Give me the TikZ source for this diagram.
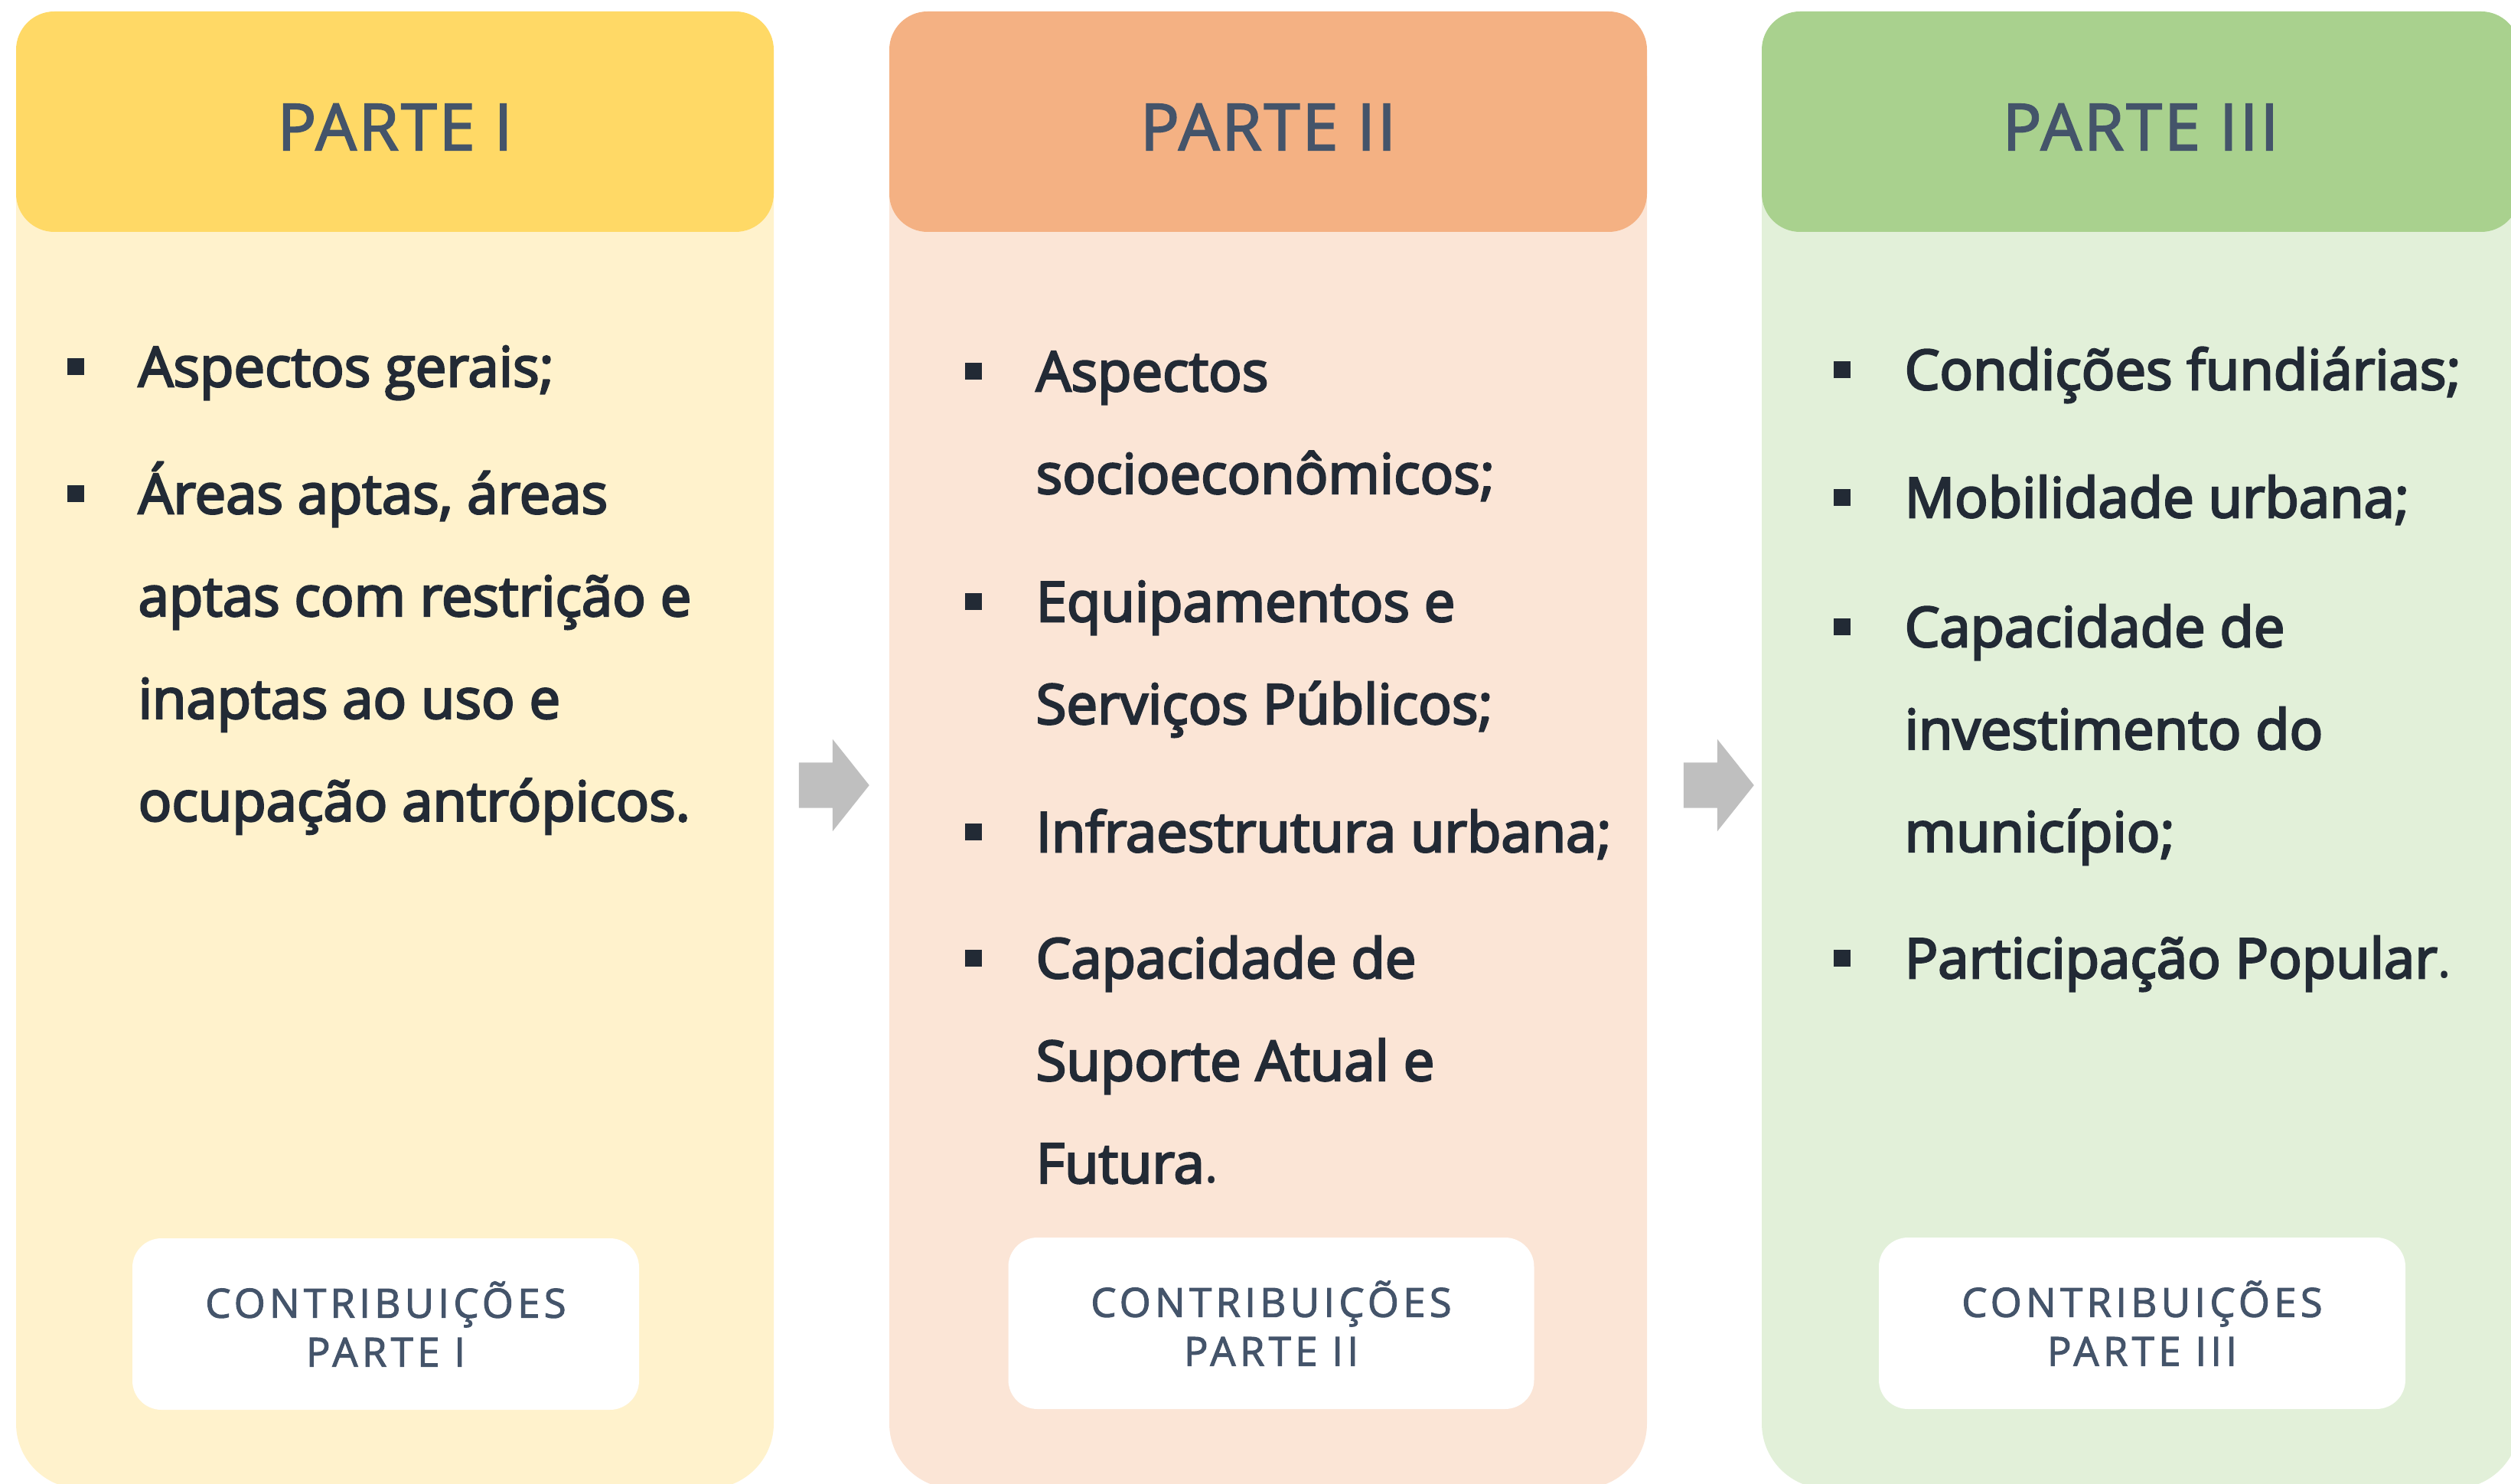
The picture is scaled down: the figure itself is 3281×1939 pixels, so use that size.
\documentclass[tikz,border=0pt]{standalone}
\usepackage{fontspec}
\setmainfont{Open Sans}
\newfontfamily\itemfont{Open Sans}[FakeBold=3.5]
\newfontfamily\titlefont{Open Sans}[LetterSpace=4, FakeBold=2.5]
\newfontfamily\boxfont{Open Sans}[LetterSpace=10, FakeBold=2]
\usetikzlibrary{shapes.arrows}
\definecolor{yellowhead}{HTML}{FFD966}
\definecolor{yellowbody}{HTML}{FFF2CC}
\definecolor{orangehead}{HTML}{F4B183}
\definecolor{orangebody}{HTML}{FBE5D6}
\definecolor{greenhead}{HTML}{A9D18E}
\definecolor{greenbody}{HTML}{E2F0D9}
\definecolor{titlegray}{HTML}{44546A}
\definecolor{textdark}{HTML}{222A35}
\definecolor{arrowgray}{HTML}{BFBFBF}
\begin{document}
\begin{tikzpicture}[
    x=0.1mm, y=-0.1mm,
    panel/.style={rectangle, rounded corners=0.85cm, minimum width=9.9cm, minimum height=19.3cm, inner sep=0},
    header/.style={rectangle, rounded corners=0.5cm, minimum width=9.9cm, minimum height=2.88cm, text height=0.74cm, inner sep=0, text=titlegray, font=\titlefont\fontsize{23.9pt}{28pt}\selectfont},
    contrib/.style={rectangle, fill=white, rounded corners=0.38cm, minimum height=2.24cm, align=center, inner sep=0, text=titlegray, font=\boxfont\fontsize{15pt}{18.2pt}\selectfont},
    item/.style={anchor=base west, inner sep=0, text=textdark, font=\itemfont\fontsize{20.6pt}{38.1pt}\selectfont},
    bullet/.style={rectangle, fill=textdark, minimum size=0.22cm, inner sep=0},
    flow/.style={single arrow, fill=arrowgray, minimum height=0.92cm, inner xsep=0, inner ysep=0.29cm, single arrow head extend=0.305cm, single arrow tip angle=103}
]
    \useasboundingbox (0,0) rectangle (3281,1939);
    \clip (0,0) rectangle (3281,1939);

    % Panels
    \node[panel, fill=yellowbody] (p1) at (516,980) {};
    \node[panel, fill=orangebody] (p2) at (1657,980) {};
    \node[panel, fill=greenbody] (p3) at (2797,980) {};

    \node[header, fill=yellowhead] (h1) at (516,159) {PARTE I};
    \node[header, fill=orangehead] (h2) at (1657,159) {PARTE II};
    \node[header, fill=greenhead] (h3) at (2797,159) {PARTE III};

    % Items
    \node[item] (a1) at (180,505) {\parbox[t]{9cm}{Aspectos gerais;}};
    \node[item] (a2) at (180,671) {\parbox[t]{9cm}{Áreas aptas, áreas\\aptas com restrição e\\inaptas ao uso e\\ocupação antrópicos.}};

    \node[item] (b1) at (1353,511) {\parbox[t]{9cm}{Aspectos\\socioeconômicos;}};
    \node[item] (b2) at (1353,812) {\parbox[t]{9cm}{Equipamentos e\\Serviços Públicos;}};
    \node[item] (b3) at (1353,1113) {\parbox[t]{9cm}{Infraestrutura urbana;}};
    \node[item] (b4) at (1353,1278) {\parbox[t]{9cm}{Capacidade de\\Suporte Atual e\\Futura{\normalfont .}}};

    \node[item] (c1) at (2488,509) {\parbox[t]{9cm}{Condições fundiárias;}};
    \node[item] (c2) at (2488,676) {\parbox[t]{9cm}{Mobilidade urbana;}};
    \node[item] (c3) at (2488,845) {\parbox[t]{9cm}{Capacidade de\\investimento do\\município;}};
    \node[item] (c4) at (2488,1278) {\parbox[t]{9cm}{Participação Popular{\normalfont .}}};

    % Bullets
    \node[bullet] (a1dot) at ([shift={(-0.81cm,0.26cm)}]a1.base west) {};
    \node[bullet] (a2dot) at ([shift={(-0.81cm,0.26cm)}]a2.base west) {};
    \node[bullet] (b1dot) at ([shift={(-0.81cm,0.26cm)}]b1.base west) {};
    \node[bullet] (b2dot) at ([shift={(-0.81cm,0.26cm)}]b2.base west) {};
    \node[bullet] (b3dot) at ([shift={(-0.81cm,0.26cm)}]b3.base west) {};
    \node[bullet] (b4dot) at ([shift={(-0.81cm,0.26cm)}]b4.base west) {};
    \node[bullet] (c1dot) at ([shift={(-0.81cm,0.26cm)}]c1.base west) {};
    \node[bullet] (c2dot) at ([shift={(-0.81cm,0.26cm)}]c2.base west) {};
    \node[bullet] (c3dot) at ([shift={(-0.81cm,0.26cm)}]c3.base west) {};
    \node[bullet] (c4dot) at ([shift={(-0.81cm,0.26cm)}]c4.base west) {};

    % Contributions
    \node[contrib, minimum width=6.62cm] (k1) at (504,1730) {CONTRIBUIÇÕES\\PARTE I};
    \node[contrib, minimum width=6.87cm] (k2) at (1661,1729) {CONTRIBUIÇÕES\\PARTE II};
    \node[contrib, minimum width=6.88cm] (k3) at (2799,1729) {CONTRIBUIÇÕES\\PARTE III};

    % Arrows
    \node[flow] (ar1) at (1078,1026) {};
    \node[flow] (ar2) at (2234,1026) {};
\end{tikzpicture}
\end{document}
